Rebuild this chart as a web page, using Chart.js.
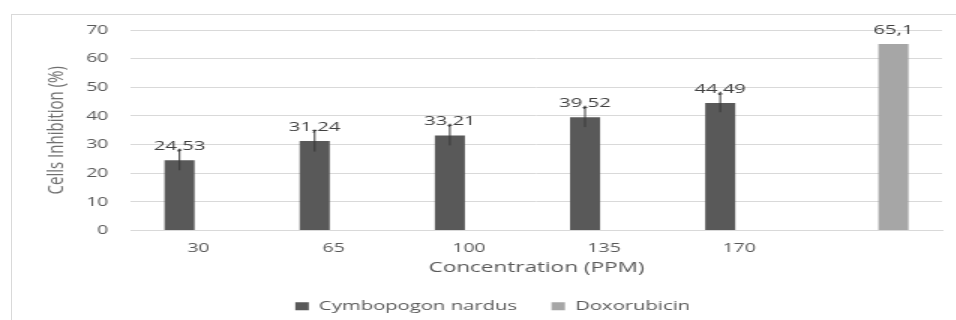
<!DOCTYPE html>
<html><head><meta charset="utf-8">
<script src="https://cdn.jsdelivr.net/npm/chart.js@4"></script>
<style>
html,body{margin:0;padding:0;background:#fff;overflow:hidden;width:956px;height:320px}
#frame{position:absolute;left:11px;top:14px;width:980px;height:330px;border:1px solid #d9d9d9;box-sizing:border-box}
#c{position:absolute;left:12px;top:15px;transform:scaleX(1.5);transform-origin:0 0}
</style></head>
<body><div id="frame"></div><canvas id="c" width="646" height="312"></canvas>
<script>
const categories = ['30','65','100','135','170',''];
const seriesNames = ['Cymbopogon nardus','Doxorubicin'];
const cymbopogon = [24.53,31.24,33.21,39.52,44.49,null];
const cymbopogonErr = [3.5,3.7,3.5,3.4,3.2,null];
const doxorubicin = [null,null,null,null,null,65.1];
const yTickValues = [0,10,20,30,40,50,60,70];

const FONT = "'Open Sans', 'DejaVu Sans', sans-serif";
const TEXT = '#595959';

const overlay = {
  id: 'overlay',
  afterDatasetsDraw(chart) {
    const ctx = chart.ctx, ys = chart.scales.y;
    ctx.save();
    chart.data.datasets.forEach((ds, di) => {
      const meta = chart.getDatasetMeta(di);
      meta.data.forEach((bar, i) => {
        const v = ds.data[i];
        if (v == null) return;
        ctx.font = '13.5px ' + FONT;
        ctx.fillStyle = '#404040';
        ctx.textAlign = 'center';
        ctx.textBaseline = 'middle';
        ctx.fillText(String(v).replace('.', ','), bar.x, bar.y - 14);
        const e = ds.errors ? ds.errors[i] : null;
        if (e != null) {
          const t = ys.getPixelForValue(v + e), b = ys.getPixelForValue(v - e);
          ctx.strokeStyle = '#3a3a3a';
          ctx.lineWidth = 1;
          ctx.beginPath();
          ctx.moveTo(bar.x, b); ctx.lineTo(bar.x, t);
          ctx.moveTo(bar.x - 1.5, t); ctx.lineTo(bar.x + 1.5, t);
          ctx.stroke();
        }
      });
    });
    ctx.restore();
  }
};

new Chart(document.getElementById('c'), {
  type: 'bar',
  data: {
    labels: categories,
    datasets: [
      { label: seriesNames[0], data: cymbopogon, errors: cymbopogonErr, backgroundColor: '#595959',
        categoryPercentage: 0.563, barPercentage: 0.79 },
      { label: seriesNames[1], data: doxorubicin, backgroundColor: '#a6a6a6',
        categoryPercentage: 0.563, barPercentage: 0.79 }
    ]
  },
  options: {
    responsive: false,
    animation: false,
    devicePixelRatio: 1,
    layout: { padding: { top: 15, right: 26, left: 21, bottom: 4 } },
    plugins: {
      tooltip: { enabled: false },
      legend: {
        position: 'bottom',
        labels: { font: { family: FONT, size: 13.5 }, color: TEXT, boxWidth: 9, boxHeight: 8, padding: 23 }
      }
    },
    scales: {
      x: {
        grid: { display: false },
        border: { display: true, color: '#d9d9d9' },
        ticks: { font: { family: FONT, size: 13 }, color: TEXT, padding: 2 },
        title: { display: true, text: 'Concentration (PPM)', font: { family: FONT, size: 15 }, color: TEXT, padding: { top: 2, bottom: 0 } },
        afterFit(s) { s.height = 46; s.paddingLeft = 0; s.paddingRight = 0; }
      },
      y: {
        min: 0, max: 70,
        afterBuildTicks(s) { s.ticks = yTickValues.map(v => ({ value: v })); },
        grid: { color: '#d9d9d9', drawTicks: false },
        border: { display: false },
        ticks: { font: { family: FONT, size: 13 }, color: TEXT, padding: 15 },
        title: { display: true, text: 'Cells Inhibition (%)', font: { family: FONT, size: 15 }, color: '#6f6f6f', padding: 0 },
        afterFit(s) { s.width = 58.3; s.paddingTop = 0; s.paddingBottom = 0; }
      }
    }
  },
  plugins: [overlay]
});
</script>
</body></html>
